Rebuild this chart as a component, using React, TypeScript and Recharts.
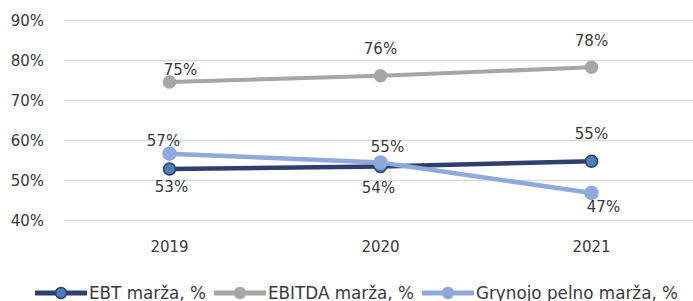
import React from 'react';
import { LineChart, Line, XAxis, YAxis, CartesianGrid, Legend, LabelList } from 'recharts';

const years = ['2019', '2020', '2021'];
const ebt = [52.9, 53.5, 54.8];
const ebitda = [74.6, 76.2, 78.3];
const grynojo = [56.7, 54.5, 46.9];
const yTicks = [40, 50, 60, 70, 80, 90];

const data = years.map((y, i) => ({ year: y, ebt: ebt[i], ebitda: ebitda[i], gry: grynojo[i] }));

const FONT = '"DejaVu Sans", sans-serif';
const TEXT = '#3a3a3a';

const series = [
  { key: 'ebt', name: 'EBT marža, %', color: '#2E3F6E', dotFill: '#4A7EBB', dotStroke: '#2E3F6E', width: 4.5, r: 6 },
  { key: 'ebitda', name: 'EBITDA marža, %', color: '#A6A6A6', dotFill: '#A6A6A6', dotStroke: '#A6A6A6', width: 4, r: 6 },
  { key: 'gry', name: 'Grynojo pelno marža, %', color: '#8EA9DB', dotFill: '#8EA9DB', dotStroke: '#8EA9DB', width: 4.5, r: 6.5 },
];

// label offsets (dx, dy) relative to point per series/index
const labelOffsets: Record<string, [number, number][]> = {
  ebt: [[2, 18], [-2, 21], [0, -28]],
  ebitda: [[11, -12], [0, -27], [0, -27]],
  gry: [[-6, -13], [7, -16], [12, 14]],
};

const makeLabel = (key: string) => (props: any) => {
  const { x, y, value, index } = props;
  const [dx, dy] = labelOffsets[key][index];
  return (
    <text x={x + dx} y={y + dy} dy="0.35em" textAnchor="middle" fontFamily={FONT} fontSize={15} fill={TEXT}>
      {Math.round(value)}%
    </text>
  );
};

const LegendContent = () => (
  <div style={{ display: 'flex', justifyContent: 'flex-start', alignItems: 'center', height: 20, paddingLeft: 35, fontFamily: FONT, fontSize: 16.8, color: TEXT, whiteSpace: 'nowrap' }}>
    {series.map((s) => (
      <div key={s.key} style={{ display: 'flex', alignItems: 'center', marginRight: 8 }}>
        <svg width={52} height={16} style={{ marginRight: 2 }}>
          <line x1={1} y1={8} x2={51} y2={8} stroke={s.color} strokeWidth={5} strokeLinecap="round" />
          <circle cx={26} cy={8} r={5.5} fill={s.dotFill} stroke={s.dotStroke} strokeWidth={1.5} />
        </svg>
        <span>{s.name}</span>
      </div>
    ))}
  </div>
);

export default function App() {
  return (
    <div style={{ position: 'absolute', left: 0, top: 0, width: 693, height: 301, overflow: 'hidden', background: '#fff' }}>
      <LineChart width={705} height={301} data={data} margin={{ top: 20.5, right: 8, left: 0, bottom: 30.5 }}>
        <CartesianGrid vertical={false} stroke="#D9D9D9" strokeWidth={1.5} />
        <XAxis dataKey="year" axisLine={false} tickLine={false} tickSize={0} tickMargin={21} height={30}
          padding={{ left: 105.5, right: 105.5 }}
          tick={{ fontFamily: FONT, fontSize: 15, fill: TEXT }} />
        <YAxis domain={[40, 90]} ticks={yTicks} axisLine={false} tickLine={false} tickSize={0} tickMargin={20} width={64}
          tickFormatter={(v) => `${v}%`} tick={{ fontFamily: FONT, fontSize: 15, fill: TEXT }} />
        <Legend verticalAlign="bottom" height={20} content={<LegendContent />} wrapperStyle={{ top: 283, left: 0, width: 693, bottom: 'auto' }} />
        {series.map((s) => (
          <Line key={s.key} type="linear" dataKey={s.key} name={s.name} stroke={s.color} strokeWidth={s.width}
            dot={{ r: s.r, fill: s.dotFill, stroke: s.dotStroke, strokeWidth: 1.5 }} activeDot={false}
            isAnimationActive={false}>
            <LabelList dataKey={s.key} content={makeLabel(s.key)} />
          </Line>
        ))}
      </LineChart>
    </div>
  );
}
